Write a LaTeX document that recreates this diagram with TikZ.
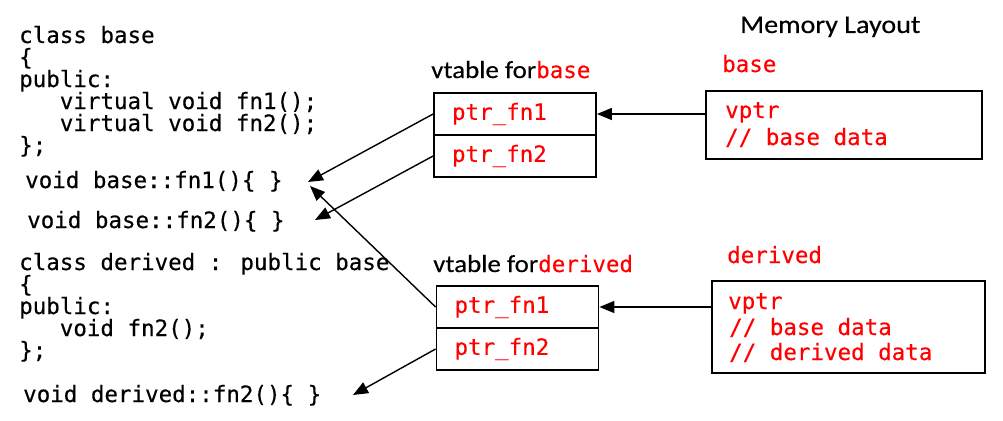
\documentclass[tikz,border=0pt]{standalone}
\usepackage{fontspec}
\newfontfamily\codefont[FakeBold=0.3]{DejaVu Sans Mono}
\newfontfamily\labelfont[FakeStretch=1.1,FakeBold=0.3]{Carlito}
\usetikzlibrary{arrows.meta}
\definecolor{codered}{RGB}{255,0,0}
\newcommand\monosize{\fontsize{22.5}{22}\selectfont}
\newcommand\redmono[1]{{\codefont\monosize\textcolor{codered}{#1}}}

\tikzset{
  code/.style={font=\codefont\monosize, inner sep=0pt, anchor=base west},
  redcode/.style={code, text=codered},
  caption/.style={font=\labelfont\fontsize{24.5}{26}\selectfont, inner sep=0pt, anchor=base west},
  cell/.style={draw, line width=1.8pt, minimum height=42pt, text width=126pt,
    inner xsep=18pt, inner ysep=0pt, align=left, font=\codefont\monosize, text=codered},
  membox/.style={draw, line width=1.8pt, inner sep=0pt},
  ptr/.style={line width=1.4pt, -{Triangle[length=15pt,width=12pt]}},
}

\begin{document}
\begin{tikzpicture}[x=1pt, y=-1pt]
  \fill[white] (0,0) rectangle (1003,420);
  \useasboundingbox (0,0) rectangle (1003,420);

  % class base
  \node[code] (b1) at (19,43)  {class base};
  \node[code] (b2) at (19,65)  {\{};
  \node[code] (b3) at (19,87)  {public:};
  \node[code] (b4) at (19,109) {\phantom{123}virtual void fn1();};
  \node[code] (b5) at (19,131) {\phantom{123}virtual void fn2();};
  \node[code] (b6) at (19,153) {\};};
  \node[code] (bfa) at (25,188) {void base::fn1()\{ \}};
  \node[code] (bfb) at (27,228) {void base::fn2()\{ \}};

  % class derived
  \node[code] (d1) at (19,270) {class derived : public base};
  \node[code] (d2) at (19,292) {\{};
  \node[code] (d3) at (19,314) {public:};
  \node[code] (d4) at (19,336) {\phantom{123}void fn2();};
  \node[code] (d5) at (19,358) {\};};
  \node[code] (dfb) at (23,402) {void derived::fn2()\{ \}};

  % vtables
  \node[caption] (vtb) at (431,78) {vtable for\redmono{base}};
  \node[cell] (bv1) at (515,114) {ptr\_fn1};
  \node[cell] (bv2) at (515,156) {ptr\_fn2};

  \node[caption] (vtd) at (433,272) {vtable for\redmono{derived}};
  \node[cell] (dv1) at (517.5,307) {ptr\_fn1};
  \node[cell] (dv2) at (517.5,349) {ptr\_fn2};

  % memory layout
  \node[caption, font=\labelfont\fontsize{25.5}{27}\selectfont] (mem) at (740,33) {Memory Layout};

  \node[redcode] (mbl) at (722,72) {base};
  \node[membox, minimum width=276pt, minimum height=68pt] (mb) at (844,125) {};
  \node[redcode] (mba) at (725,118) {vptr};
  \node[redcode] (mbb) at (725,145) {// base data};

  \node[redcode] (mdl) at (727,263) {derived};
  \node[membox, minimum width=273pt, minimum height=92pt] (md) at (848.5,327) {};
  \node[redcode] (mda) at (728,309) {vptr};
  \node[redcode] (mdb) at (729,335) {// base data};
  \node[redcode] (mdc) at (729,360) {// derived data};

  % arrow ends next to the function bodies
  \coordinate (tfa) at (308,182);
  \coordinate (tfb) at (315,220);
  \coordinate (tfc) at (310,186);
  \coordinate (tfd) at (353,395);

  % pointers
  \draw[ptr] (mb.west |- bv1.east) -- (bv1.east);
  \draw[ptr] (md.west |- dv1.east) -- (dv1.east);
  \draw[ptr] (bv1.west) -- (tfa);
  \draw[ptr] (bv2.west) -- (tfb);
  \draw[ptr] (dv1.west) -- (tfc);
  \draw[ptr] (dv2.west) -- (tfd);
\end{tikzpicture}
\end{document}
